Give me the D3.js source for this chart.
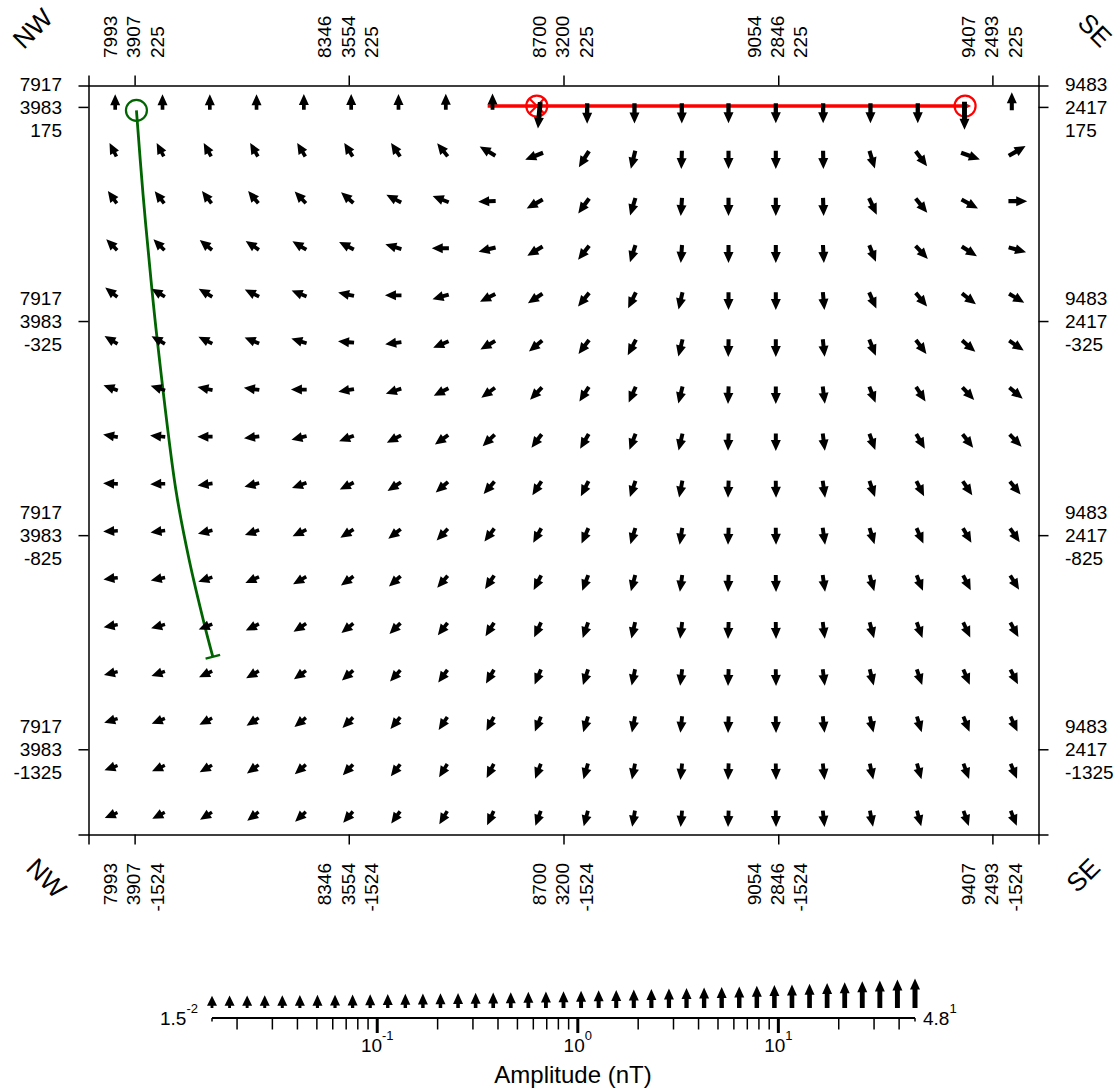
<!DOCTYPE html>
<html>
<head>
<meta charset="utf-8">
<script src="https://cdn.jsdelivr.net/npm/d3@7"></script>
<style>
body { margin: 0; background: #fff; }
svg text { font-family: "Liberation Sans", Arial, Helvetica, sans-serif; fill: #000; }
</style>
</head>
<body>
<div id="wrapper"></div>
<script>
// section edges and axis ticks (easting / northing / elevation, m)
const leftEdge = [7917, 3983];
const rightEdge = [9483, 2417];
const tickEast = [7993, 8346, 8700, 9054, 9407];
const tickNorth = [3907, 3554, 3200, 2846, 2493];
const topElev = 225;
const bottomElev = -1524;
const elevTicks = [175, -325, -825, -1325];

// arrow grid
const gridEast = [7961, 8039, 8117, 8194, 8272, 8350, 8428, 8506, 8583, 8661,
                  8739, 8817, 8895, 8972, 9050, 9128, 9206, 9284, 9361, 9439];
const gridElev = [175, 65, -45, -155, -265, -375, -485, -595, -705, -815,
                  -925, -1035, -1145, -1255, -1365, -1475];

// direction in the section plane, degrees (0 = towards SE, 90 = up)
const angles = [
  [90,90,90,90,90,90,90,90,90,265, 270,270,270,270,270,270,270,270,270,90],
  [117,118,119,120,121,122,124,129,150,201, 238,256,268,270,270,271,287,307,340,30],
  [126,128,128,130,134,139,152,159,182,209, 234,253,266,270,270,272,295,309,331,0],
  [135,135,141,146,149,153,163,180,194,211, 232,252,266,270,270,273,292,313,327,344],
  [142,149,149,154,158,168,180,196,207,214, 231,244,257,270,270,275,294,310,322,329],
  [149,150,153,157,163,175,188,203,210,220, 233,242,256,269,270,276,292,307,319,326],
  [160,162,168,172,180,190,198,207,216,226, 237,246,256,268,270,277,291,303,313,320],
  [170,175,180,187,194,201,208,216,224,233, 240,249,257,268,270,277,290,300,308,314],
  [178,182,188,194,200,207,213,221,229,237, 243,251,259,268,271,278,289,297,304,309],
  [183,188,194,200,206,212,218,226,233,241, 246,253,261,268,271,278,287,294,300,305],
  [187,192,198,204,210,216,222,229,236,243, 249,255,262,268,271,278,286,292,297,302],
  [190,196,202,207,213,219,225,232,238,245, 251,257,263,268,271,277,285,290,295,299],
  [194,199,205,210,216,222,228,234,240,247, 252,258,263,268,271,277,284,289,293,297],
  [197,202,208,213,219,225,230,236,242,248, 253,259,264,268,271,276,283,287,292,295],
  [200,205,210,216,221,227,232,238,243,249, 254,259,264,268,271,276,282,286,290,293],
  [203,207,213,218,223,229,234,239,245,250, 255,260,265,268,271,276,281,285,289,292]
];

// amplitude, nT
const amps = [
  [0.35,0.35,0.35,0.35,0.4,0.4,0.45,0.5,0.6,25, 4.5,4,3.8,3.6,3.5,3.5,3.5,3.6,35,1.5],
  [0.3,0.3,0.35,0.4,0.45,0.5,0.6,0.8,1.6,2.5, 2.5,1.8,1.8,1.8,1.8,1.8,1.9,2.2,3.5,2.8],
  [0.3,0.35,0.4,0.5,0.55,0.65,0.8,1.0,1.2,1.8, 1.9,1.7,1.7,1.7,1.7,1.7,1.7,1.8,2.2,2.2],
  [0.35,0.4,0.45,0.5,0.6,0.7,0.8,1.0,1.2,1.4, 1.5,1.4,1.5,1.5,1.5,1.5,1.4,1.5,1.6,1.6],
  [0.35,0.4,0.45,0.5,0.55,0.6,0.7,0.85,1.0,1.2, 1.3,1.3,1.3,1.4,1.4,1.4,1.3,1.3,1.3,1.3],
  [0.3,0.35,0.4,0.45,0.5,0.55,0.65,0.8,0.95,1.1, 1.2,1.2,1.2,1.3,1.3,1.3,1.2,1.2,1.2,1.2],
  [0.3,0.3,0.35,0.4,0.45,0.5,0.6,0.7,0.85,1.0, 1.1,1.1,1.2,1.2,1.2,1.2,1.1,1.1,1.1,1.1],
  [0.25,0.3,0.3,0.35,0.4,0.45,0.55,0.65,0.8,0.9, 1.0,1.0,1.1,1.1,1.1,1.1,1.0,1.0,1.0,1.0],
  [0.22,0.25,0.28,0.3,0.35,0.4,0.5,0.6,0.7,0.8, 0.9,0.95,1.0,1.0,1.0,1.0,0.95,0.9,0.9,0.9],
  [0.2,0.22,0.25,0.28,0.32,0.38,0.45,0.55,0.65,0.75, 0.85,0.9,0.95,0.95,0.95,0.95,0.9,0.85,0.85,0.85],
  [0.17,0.2,0.22,0.25,0.3,0.35,0.42,0.5,0.6,0.7, 0.8,0.85,0.9,0.9,0.9,0.9,0.85,0.8,0.8,0.8],
  [0.15,0.17,0.2,0.22,0.27,0.32,0.38,0.45,0.55,0.65, 0.75,0.8,0.85,0.85,0.85,0.85,0.8,0.75,0.75,0.75],
  [0.13,0.15,0.18,0.2,0.24,0.3,0.35,0.42,0.5,0.6, 0.7,0.75,0.8,0.8,0.8,0.8,0.75,0.7,0.7,0.7],
  [0.12,0.14,0.16,0.18,0.22,0.27,0.32,0.4,0.47,0.55, 0.65,0.7,0.75,0.75,0.75,0.75,0.7,0.65,0.65,0.65],
  [0.11,0.13,0.15,0.17,0.2,0.25,0.3,0.37,0.44,0.52, 0.6,0.65,0.7,0.7,0.7,0.7,0.65,0.6,0.6,0.6],
  [0.1,0.12,0.14,0.16,0.19,0.23,0.28,0.34,0.41,0.49, 0.56,0.61,0.66,0.66,0.66,0.66,0.62,0.57,0.57,0.57]
];

// green well trace
const wellEast = [7996, 8007, 8020, 8030, 8061, 8083, 8109, 8122];
const wellElev = [167, -31, -229, -365, -719, -883, -1039, -1109];

// red profile line
const lineEast = [8575, 9362];
const lineElev = 177;
const lineMarks = [8656, 9362];

// legend
const legendMin = 0.015;
const legendMax = 48;
const legendCount = 41;

const width = 1117, height = 1091;

const svg = d3.select("#wrapper").append("svg")
    .attr("width", width)
    .attr("height", height);

const x = d3.scaleLinear().domain([leftEdge[0], rightEdge[0]]).range([88.5, 1038.5]);
const y = d3.scaleLinear().domain([topElev, bottomElev]).range([85.5, 834.5]);

const lenScale = d3.scalePow().exponent(0.25).domain([0, legendMax]).range([9.6, 29.5]);
const shaftScale = d3.scaleLog().domain([legendMin, legendMax]).range([2.8, 5]).clamp(true);

function arrowPath(cx, cy, ang, L, sw, anchor) {
    const r = ang * Math.PI / 180;
    const ux = Math.cos(r), uy = -Math.sin(r);
    const px = -uy, py = ux;
    const x0 = cx - anchor * L * ux, y0 = cy - anchor * L * uy;
    const hl = Math.min(11, L * 0.82), hw = 5;
    const s = L - hl;
    const pt = (a, b) => [x0 + ux * a + px * b, y0 + uy * a + py * b];
    const pts = [pt(0, sw / 2), pt(s, sw / 2), pt(s, hw), pt(L, 0), pt(s, -hw), pt(s, -sw / 2), pt(0, -sw / 2)];
    return d3.line()(pts) + "Z";
}

// ---- frame axes
function styleAxis(g) {
    g.selectAll("path, line").attr("stroke", "#000").attr("stroke-width", 1.5);
    g.selectAll("text").remove();
}
svg.append("g").attr("transform", "translate(0,85.5)")
    .call(d3.axisTop(x).tickValues(tickEast).tickSize(10).tickSizeOuter(10)).call(styleAxis);
svg.append("g").attr("transform", "translate(0,834.5)")
    .call(d3.axisBottom(x).tickValues(tickEast).tickSize(10).tickSizeOuter(10)).call(styleAxis);
svg.append("g").attr("transform", "translate(88.5,0)")
    .call(d3.axisLeft(y).tickValues(elevTicks).tickSize(10).tickSizeOuter(10)).call(styleAxis);
svg.append("g").attr("transform", "translate(1038.5,0)")
    .call(d3.axisRight(y).tickValues(elevTicks).tickSize(10).tickSizeOuter(10)).call(styleAxis);

// ---- tick labels (three stacked numbers)
const topLab = tickEast.flatMap((e, i) => [e, tickNorth[i], topElev].map((t, j) => ({e, t, j})));
svg.append("g").selectAll("text").data(topLab).join("text")
    .attr("transform", d => `translate(${x(d.e) + (d.j - 1) * 23.3 - 0.8},58) rotate(-90)`)
    .attr("dy", "0.35em").attr("text-anchor", "start").attr("font-size", 19)
    .text(d => d.t);

const botLab = tickEast.flatMap((e, i) => [e, tickNorth[i], bottomElev].map((t, j) => ({e, t, j})));
svg.append("g").selectAll("text").data(botLab).join("text")
    .attr("transform", d => `translate(${x(d.e) + (d.j - 1) * 23.3 - 0.8},863) rotate(-90)`)
    .attr("dy", "0.35em").attr("text-anchor", "end").attr("font-size", 19)
    .text(d => d.t);

const leftLab = elevTicks.flatMap(z => [leftEdge[0], leftEdge[1], z].map((t, j) => ({z, t, j})));
svg.append("g").selectAll("text").data(leftLab).join("text")
    .attr("x", 62).attr("y", d => y(d.z) + (d.j - 1) * 23)
    .attr("dy", "0.35em").attr("text-anchor", "end").attr("font-size", 19)
    .text(d => d.t);

const rightLab = elevTicks.flatMap(z => [rightEdge[0], rightEdge[1], z].map((t, j) => ({z, t, j})));
svg.append("g").selectAll("text").data(rightLab).join("text")
    .attr("x", 1065).attr("y", d => y(d.z) + (d.j - 1) * 23)
    .attr("dy", "0.35em").attr("text-anchor", "start").attr("font-size", 19)
    .text(d => d.t);

// NW / SE corner labels
const corners = [
    {t: "NW", cx: 32.5, cy: 28.5, rot: -45},
    {t: "SE", cx: 1095, cy: 30, rot: 45},
    {t: "NW", cx: 46.5, cy: 878, rot: 45},
    {t: "SE", cx: 1083, cy: 875, rot: -45}
];
svg.append("g").selectAll("text").data(corners).join("text")
    .attr("transform", d => `translate(${d.cx},${d.cy}) rotate(${d.rot})`)
    .attr("text-anchor", "middle").attr("dy", "0.35em").attr("font-size", 26)
    .text(d => d.t);

// ---- red line and markers
svg.append("line")
    .attr("x1", x(lineEast[0])).attr("x2", x(lineEast[1]))
    .attr("y1", y(lineElev)).attr("y2", y(lineElev))
    .attr("stroke", "#ff0000").attr("stroke-width", 3.5);
svg.append("g").selectAll("circle").data(lineMarks).join("circle")
    .attr("cx", d => x(d)).attr("cy", y(lineElev)).attr("r", 10.5)
    .attr("fill", "none").attr("stroke", "#ff0000").attr("stroke-width", 2.2);
const m0 = [x(lineMarks[0]), y(lineElev)];
svg.append("path")
    .attr("d", `M${m0[0] - 7},${m0[1] - 7}L${m0[0] + 7},${m0[1] + 7}M${m0[0] + 7},${m0[1] - 7}L${m0[0] - 7},${m0[1] + 7}`)
    .attr("stroke", "#ff0000").attr("stroke-width", 2);
const m1 = [x(lineMarks[1]), y(lineElev)];
svg.append("path")
    .attr("d", `M${m1[0] - 2},${m1[1] - 4}L${m1[0] + 6},${m1[1]}L${m1[0] - 2},${m1[1] + 4}Z`)
    .attr("fill", "#ff0000");

// ---- green well
const wellPts = wellEast.map((e, i) => [x(e), y(wellElev[i])]);
svg.append("path")
    .attr("d", d3.line().curve(d3.curveCatmullRom)(wellPts))
    .attr("fill", "none").attr("stroke", "#006400").attr("stroke-width", 2.8);
svg.append("circle")
    .attr("cx", wellPts[0][0]).attr("cy", wellPts[0][1]).attr("r", 10.5)
    .attr("fill", "none").attr("stroke", "#006400").attr("stroke-width", 2.2);
{
    const a = wellPts[wellPts.length - 2], b = wellPts[wellPts.length - 1];
    const dx = b[0] - a[0], dy = b[1] - a[1], n = Math.hypot(dx, dy);
    const px = -dy / n * 7.5, py = dx / n * 7.5;
    svg.append("line")
        .attr("x1", b[0] - px).attr("y1", b[1] - py)
        .attr("x2", b[0] + px).attr("y2", b[1] + py)
        .attr("stroke", "#006400").attr("stroke-width", 2.4);
}

// ---- arrow field
const cells = [];
gridElev.forEach((z, r) => gridEast.forEach((e, c) => cells.push({e, z, ang: angles[r][c], amp: amps[r][c]})));
svg.append("g").selectAll("path").data(cells).join("path")
    .attr("d", d => arrowPath(x(d.e), y(d.z), d.ang, lenScale(d.amp), shaftScale(d.amp), 0.18))
    .attr("fill", "#000");

// ---- amplitude legend
const logX = d3.scaleLog().domain([legendMin, legendMax]).range([212, 915]);
const legendY = 1018;
const legendAmps = d3.range(legendCount).map(i => legendMin * Math.pow(legendMax / legendMin, i / (legendCount - 1)));

svg.append("g").selectAll("path").data(legendAmps).join("path")
    .attr("d", d => arrowPath(logX(d), 1008, 90, lenScale(d), shaftScale(d), 0))
    .attr("fill", "#000");

svg.append("line")
    .attr("x1", logX(legendMin)).attr("x2", logX(legendMax))
    .attr("y1", legendY).attr("y2", legendY)
    .attr("stroke", "#000").attr("stroke-width", 2);

const majors = [0.1, 1, 10];
const minors = logX.ticks().filter(v => !majors.includes(v));
svg.append("g").selectAll("line").data(minors).join("line")
    .attr("x1", d => logX(d)).attr("x2", d => logX(d))
    .attr("y1", legendY).attr("y2", legendY + 11.5)
    .attr("stroke", "#000").attr("stroke-width", 1.5);
svg.append("g").selectAll("line").data(majors).join("line")
    .attr("x1", d => logX(d)).attr("x2", d => logX(d))
    .attr("y1", legendY).attr("y2", legendY + 15)
    .attr("stroke", "#000").attr("stroke-width", 3);
svg.append("g").selectAll("line").data([legendMin, legendMax]).join("line")
    .attr("x1", d => logX(d)).attr("x2", d => logX(d))
    .attr("y1", legendY).attr("y2", legendY + 3.5)
    .attr("stroke", "#000").attr("stroke-width", 1.5);

const majorLab = svg.append("g").selectAll("text").data(majors).join("text")
    .attr("x", d => logX(d)).attr("y", 1052)
    .attr("text-anchor", "middle").attr("font-size", 19);
majorLab.append("tspan").text("10");
majorLab.append("tspan").attr("dy", -12).attr("font-size", 13).text(d => Math.round(Math.log10(d)));

const endLab = [
    {base: "1.5", exp: "-2", x: 198, anchor: "end"},
    {base: "4.8", exp: "1", x: 923, anchor: "start"}
];
const endText = svg.append("g").selectAll("text").data(endLab).join("text")
    .attr("x", d => d.x).attr("y", 1025)
    .attr("text-anchor", d => d.anchor).attr("font-size", 19);
endText.append("tspan").text(d => d.base);
endText.append("tspan").attr("dy", -12).attr("font-size", 13).text(d => d.exp);

svg.append("text")
    .attr("x", 573).attr("y", 1083)
    .attr("text-anchor", "middle").attr("font-size", 24)
    .text("Amplitude (nT)");
</script>
</body>
</html>
